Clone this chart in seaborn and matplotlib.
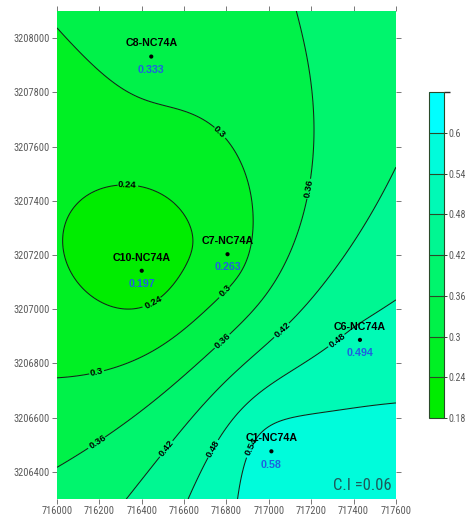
import numpy as np
import pandas as pd
import matplotlib
matplotlib.use("Agg")
import matplotlib.pyplot as plt
import seaborn as sns
from matplotlib import font_manager
from matplotlib.colors import ListedColormap, BoundaryNorm

# Monitoring wells: easting, northing and measured value
wells = ["C8-NC74A", "C10-NC74A", "C7-NC74A", "C6-NC74A", "C1-NC74A"]
easting = [716445, 716400, 716805, 717430, 717012]
northing = [3207932, 3207142, 3207203, 3206887, 3206476]
values = [0.333, 0.197, 0.263, 0.494, 0.58]

levels = [0.18, 0.24, 0.30, 0.36, 0.42, 0.48, 0.54, 0.60, 0.66]
x_ticks = [716000, 716200, 716400, 716600, 716800, 717000, 717200, 717400, 717600]
y_ticks = [3206400, 3206600, 3206800, 3207000, 3207200, 3207400, 3207600, 3207800, 3208000]
x_range = (716000, 717600)
y_range = (3206300, 3208100)

df = pd.DataFrame({"well": wells, "x": easting, "y": northing, "v": values})

sns.set_theme(style="white")
plt.rcParams["font.family"] = ["Liberation Sans", "DejaVu Sans"]

# narrow face for axis numbers, if one is available
installed = {f.name for f in font_manager.fontManager.ttflist}
narrow = None
for cand in ["Liberation Sans Narrow", "Arial Narrow", "DejaVu Sans Condensed",
             "Roboto Condensed", "Open Sans Condensed", "Noto Sans Condensed"]:
    if cand in installed:
        narrow = cand
        break
if narrow is None:
    narrow_kw = dict(family="DejaVu Sans", stretch="condensed")
else:
    narrow_kw = dict(family=narrow)


def krige_linear(xs, ys, vs, gx, gy):
    """Ordinary kriging with a linear variogram (dual form)."""
    xs = np.asarray(xs, float); ys = np.asarray(ys, float); vs = np.asarray(vs, float)
    n = len(xs)
    d = np.hypot(xs[:, None] - xs[None, :], ys[:, None] - ys[None, :])
    A = np.zeros((n + 1, n + 1))
    A[:n, :n] = d
    A[:n, n] = 1.0
    A[n, :n] = 1.0
    w = np.linalg.solve(A, np.r_[vs, 0.0])
    dg = np.hypot(gx[..., None] - xs, gy[..., None] - ys)
    return dg @ w[:n] + w[n]


gx, gy = np.meshgrid(np.linspace(*x_range, 240), np.linspace(*y_range, 270))
field = krige_linear(df.x, df.y, df.v, gx, gy)
field_fill = np.clip(field, levels[0] + 1e-6, levels[-1] - 1e-6)

t = np.linspace(0, 1, len(levels) - 1)
band_colors = [(0.0, 0.93 + 0.07 * ti, ti) for ti in t]
cmap = ListedColormap(band_colors)
norm = BoundaryNorm(levels, cmap.N)

fig = plt.figure(figsize=(4.69, 5.22), dpi=100)
ax = fig.add_axes([0.1215, 0.044, 0.7228, 0.9349])
cax = fig.add_axes([0.9147, 0.1992, 0.032, 0.6245])

cf = ax.contourf(gx, gy, field_fill, levels=levels, cmap=cmap, norm=norm)
cs = ax.contour(gx, gy, field, levels=levels[1:-1], colors="#142414", linewidths=0.75)

label_spots = [
    (716760, 3207649), (716330, 3207454), (716453, 3207026), (716802, 3207063),
    (716189, 3206764), (716194, 3206509), (716778, 3206885), (717194, 3207446),
    (716514, 3206487), (717067, 3206922), (716736, 3206487), (717322, 3206886),
    (716920, 3206490),
]
clabels = ax.clabel(cs, fmt="%g", fontsize=6.8, colors="black", inline=True,
                    inline_spacing=1, manual=label_spots)
for tl in clabels:
    tl.set_fontweight("bold")

sns.scatterplot(data=df, x="x", y="y", ax=ax, color="black", s=9,
                edgecolor="none", legend=False, zorder=5)
for _, r in df.iterrows():
    ax.annotate(r["well"], (r["x"], r["y"]), xytext=(0, 9.5), textcoords="offset points",
                ha="center", va="center", fontsize=7.7, fontweight="bold",
                color="black", zorder=6)
    ax.annotate(f"{r['v']:g}", (r["x"], r["y"]), xytext=(0, -9.5), textcoords="offset points",
                ha="center", va="center", fontsize=7.7, fontweight="bold",
                color="#1f5fe0", zorder=6)

ax.text(0.988, 0.012, "C.I =0.06", transform=ax.transAxes, ha="right", va="bottom",
        fontsize=12, color="#1d5a5a", **narrow_kw)

ax.set_xlim(*x_range)
ax.set_ylim(*y_range)
ax.set_xticks(x_ticks)
ax.set_yticks(y_ticks)
ax.set_xlabel("")
ax.set_ylabel("")
ax.ticklabel_format(useOffset=False, style="plain")
ax.tick_params(axis="both", which="both", direction="out", length=3.5, width=0.7,
               color="#777777", labelcolor="#5a5a5a", labelsize=7.5,
               top=True, right=True, bottom=True, left=True,
               labeltop=False, labelright=False, pad=1.5)
for lab in ax.get_xticklabels() + ax.get_yticklabels():
    lab.set(**narrow_kw)
for s in ax.spines.values():
    s.set_visible(False)

cb = fig.colorbar(cf, cax=cax, ticks=levels[:-1], drawedges=True)
cb.ax.set_yticklabels([f"{l:g}" for l in levels[:-1]])
cb.outline.set_edgecolor("#2a4a2a")
cb.outline.set_linewidth(0.8)
cb.dividers.set_color("#2a4a2a")
cb.dividers.set_linewidth(0.8)
cb.ax.tick_params(length=2, width=0.7, color="#2a4a2a", labelcolor="#5a5a5a",
                  labelsize=7.2, pad=1)
for lab in cb.ax.get_yticklabels():
    lab.set(**narrow_kw)

fig.savefig("out.png", dpi=100)
